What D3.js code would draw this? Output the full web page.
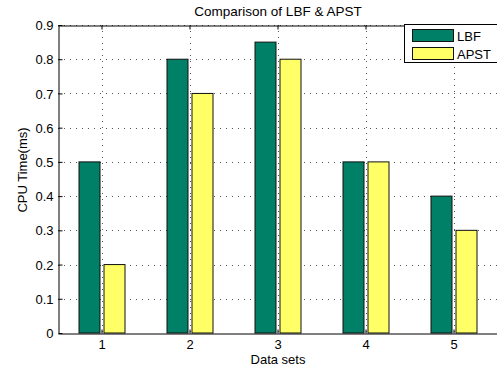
<!DOCTYPE html>
<html><head><meta charset="utf-8">
<script src="https://cdn.jsdelivr.net/npm/d3@7"></script>
<style>body{margin:0;background:#fff}svg{display:block;font-family:"Liberation Sans",Arial,sans-serif}</style>
</head><body>
<script>
const categories = ["1","2","3","4","5"];
const seriesNames = ["LBF","APST"];
const lbf = [0.5, 0.8, 0.85, 0.5, 0.4];
const apst = [0.2, 0.7, 0.8, 0.5, 0.3];
const yTicks = [0,0.1,0.2,0.3,0.4,0.5,0.6,0.7,0.8,0.9];
const colors = ["#008066","#ffff66"];

const W=497,H=365;
const m={left:58,top:25,right:498,bottom:333};
const svg=d3.select("body").append("svg").attr("width",W).attr("height",H);

const x=d3.scaleBand().domain(categories).range([m.left,m.right]).padding(0);
const xs=d3.scaleBand().domain(seriesNames).range([-23,23]).paddingInner(0.16).paddingOuter(0);
const y=d3.scaleLinear().domain([0,0.9]).range([m.bottom,m.top]);
const cx=c=>x(c)+x.bandwidth()/2;

// grid
const g=svg.append("g");
g.selectAll(".hg").data(yTicks.slice(1)).join("line")
 .attr("x1",m.left).attr("x2",m.right).attr("y1",d=>Math.round(y(d))+0.5).attr("y2",d=>Math.round(y(d))+0.5)
 .attr("stroke","#555").attr("stroke-dasharray","1,5");
g.selectAll(".vg").data(categories).join("line")
 .attr("x1",d=>Math.round(cx(d))+0.5).attr("x2",d=>Math.round(cx(d))+0.5).attr("y1",m.top).attr("y2",m.bottom)
 .attr("stroke","#555").attr("stroke-dasharray","1,5");

// bars
const data=categories.map((c,i)=>({c,vals:[{s:"LBF",v:lbf[i]},{s:"APST",v:apst[i]}]}));
const grp=svg.append("g").selectAll("g").data(data).join("g").attr("transform",d=>`translate(${cx(d.c)},0)`);
grp.selectAll("rect").data(d=>d.vals).join("rect")
 .attr("x",d=>xs(d.s)).attr("width",xs.bandwidth())
 .attr("y",d=>y(d.v)).attr("height",d=>y(0)-y(d.v))
 .attr("fill",(d,i)=>colors[i]).attr("stroke","#111").attr("stroke-width",1);

// axes
const yAxis=d3.axisLeft(y).tickValues(yTicks).tickSizeInner(-4).tickSizeOuter(0).tickPadding(5).tickFormat(d=>d===0?"0":d3.format(".1f")(d));
const ya=svg.append("g").attr("transform",`translate(${m.left+0.5},0)`).call(yAxis);
const xAxis=d3.axisBottom(x).tickSizeInner(-4).tickSizeOuter(0).tickPadding(6);
const xa=svg.append("g").attr("transform",`translate(0,${m.bottom+0.5})`).call(xAxis);
const xt=svg.append("g").attr("transform",`translate(0,${m.top+0.5})`).call(d3.axisTop(x).tickSizeInner(-4).tickSizeOuter(0).tickFormat(""));
[ya,xa,xt].forEach(a=>{a.select(".domain").attr("stroke","#000");a.selectAll(".tick line").attr("stroke","#000");
 a.selectAll("text").attr("font-size",13).attr("font-family","Liberation Sans, Arial, sans-serif").attr("fill","#000");});
ya.selectAll(".tick text").attr("dy","0.35em");

// labels
svg.append("text").attr("x",(m.left+m.right)/2).attr("y",16).attr("text-anchor","middle").attr("font-size",13.5).text("Comparison of LBF & APST");
svg.append("text").attr("x",(m.left+m.right)/2).attr("y",363.5).attr("text-anchor","middle").attr("font-size",13).text("Data sets");
svg.append("text").attr("transform","translate(27,170) rotate(-90)").attr("text-anchor","middle").attr("font-size",13).text("CPU Time(ms)");

// legend
const lg=svg.append("g");
lg.append("rect").attr("x",404.5).attr("y",24.5).attr("width",110).attr("height",38).attr("fill","#fff").attr("stroke","#000");
seriesNames.forEach((s,i)=>{
 lg.append("rect").attr("x",412.5).attr("y",29.5+i*18).attr("width",41).attr("height",12).attr("fill",colors[i]).attr("stroke","#111");
 lg.append("text").attr("x",457).attr("y",40.5+i*18).attr("font-size",13).text(s);
});
</script>
</body></html>
